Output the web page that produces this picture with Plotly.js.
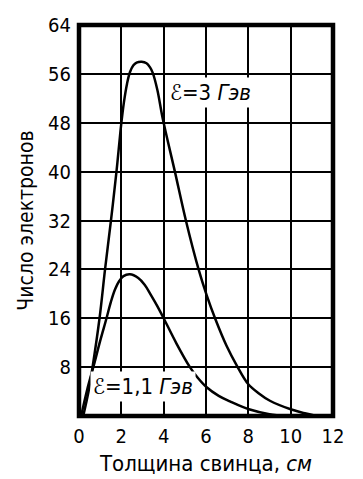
<!DOCTYPE html>
<html>
<head>
<meta charset="utf-8">
<script src="https://cdn.plot.ly/plotly-3.0.1.min.js"></script>
<style>
html,body{margin:0;padding:0;background:#fff;}
#chart{width:363px;height:479px;}
</style>
</head>
<body>
<div id="chart"></div>
<script>
// Thickness of lead (cm) and number of electrons
const x3GeV = [0.2, 0.45, 0.64, 0.97, 1.23, 1.51, 1.77, 1.97, 2.12, 2.27, 2.41, 2.57, 2.72, 2.96, 3.19, 3.35, 3.48, 3.7, 3.96, 4.53, 5.05, 5.65, 6.03, 6.45, 6.97, 7.45, 8.0, 8.5, 9.02, 10.0, 10.6, 11.3];
const y3GeV = [0, 4, 8, 16, 24, 32, 40, 47, 51.3, 54.4, 56.3, 57.4, 57.85, 58, 57.75, 57.1, 56.2, 53.4, 48.6, 40, 32, 24, 19.8, 15.8, 11.5, 8.3, 5.2, 3.7, 2.5, 1.1, 0.5, 0];

const x11GeV = [0.1, 0.4, 0.7, 1.0, 1.3, 1.5, 1.7, 1.9, 2.1, 2.4, 2.8, 3.1, 3.4, 3.7, 4.0, 4.6, 5.24, 5.6, 6.03, 6.6, 7.13, 8.03, 9.0, 9.8];
const y11GeV = [0, 4.5, 8.3, 12.3, 16, 18.6, 20.7, 22.1, 22.9, 23.2, 22.6, 21.5, 19.8, 18.0, 16, 11.9, 8, 6.3, 4.7, 3.3, 2.4, 1.1, 0.3, 0];

const xTicks = [0, 2, 4, 6, 8, 10, 12];
const xTickText = ['0', '2', '4', '6', '8', '10', '12'];
const yTicks = [8, 16, 24, 32, 40, 48, 56, 64];
const yTickText = ['8', '16', '24', '32', '40', '48', '56', '64'];

const labels = ['ℰ=3 <i>Гэв</i>', 'ℰ=1,1 <i>Гэв</i>'];
const labelX = [6.2, 3.0];
const labelY = [52.9, 4.9];

const FONT = 'DejaVu Sans Condensed, DejaVu Sans, sans-serif';

const lineStyle = {color: '#000', width: 2.5, shape: 'spline', smoothing: 1};

const traces = [
  {x: x3GeV, y: y3GeV, type: 'scatter', mode: 'lines', line: lineStyle, hoverinfo: 'skip'},
  {x: x11GeV, y: y11GeV, type: 'scatter', mode: 'lines', line: lineStyle, hoverinfo: 'skip'}
];

const annotations = labels.map((t, i) => ({
  text: t, x: labelX[i], y: labelY[i], xref: 'x', yref: 'y',
  showarrow: false, bgcolor: '#fff', borderpad: 2,
  font: {family: FONT, size: 22, color: '#000'}
}));

const layout = {
  width: 363, height: 479,
  margin: {l: 79, r: 30, t: 25, b: 63},
  paper_bgcolor: '#fff', plot_bgcolor: '#fff',
  showlegend: false,
  font: {family: FONT, color: '#000'},
  xaxis: {
    range: [0, 12], tickvals: xTicks, ticktext: xTickText,
    showgrid: true, gridcolor: '#000', gridwidth: 2,
    zeroline: false, showline: false, ticks: '',
    tickfont: {family: FONT, size: 20, color: '#000'},
    ticklabelstandoff: 6,
    title: {text: 'Толщина свинца, <i>см</i>', font: {family: FONT, size: 22, color: '#000'}, standoff: 8},
    fixedrange: true
  },
  yaxis: {
    range: [0, 64], tickvals: yTicks, ticktext: yTickText,
    showgrid: true, gridcolor: '#000', gridwidth: 2,
    zeroline: false, showline: false, ticks: '',
    tickfont: {family: FONT, size: 20, color: '#000'},
    ticklabelstandoff: 7,
    title: {text: 'Число электронов', font: {family: FONT, size: 21, color: '#000'}, standoff: 8},
    fixedrange: true
  },
  shapes: [{
    type: 'rect', xref: 'paper', yref: 'paper', x0: 0, x1: 1, y0: 0, y1: 1,
    line: {color: '#000', width: 4.5}, layer: 'above'
  }],
  annotations: annotations
};

Plotly.newPlot('chart', traces, layout, {staticPlot: true, displayModeBar: false});
</script>
</body>
</html>
